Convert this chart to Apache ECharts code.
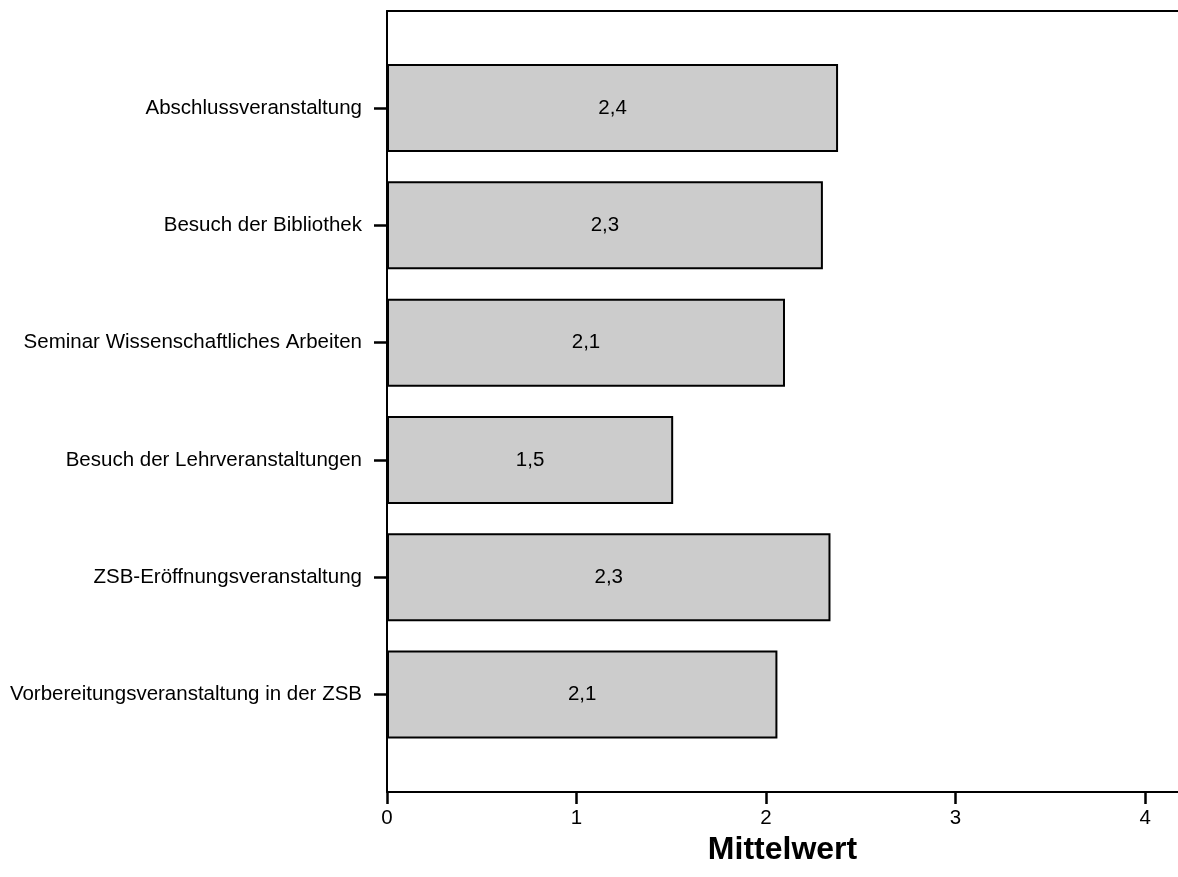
<!DOCTYPE html>
<html>
<head>
<meta charset="utf-8">
<script src="https://cdn.jsdelivr.net/npm/echarts@6/dist/echarts.min.js"></script>
<style>
html,body{margin:0;padding:0;background:#fff;}
#chart{width:1178px;height:877px;}
</style>
</head>
<body>
<div id="chart"></div>
<script>
const categories = [
  'Abschlussveranstaltung',
  'Besuch der Bibliothek',
  'Seminar Wissenschaftliches Arbeiten',
  'Besuch der Lehrveranstaltungen',
  'ZSB-Eröffnungsveranstaltung',
  'Vorbereitungsveranstaltung in der ZSB'
];
const meanValues = [2.38, 2.30, 2.10, 1.51, 2.34, 2.06];
const xTicks = [0, 1, 2, 3, 4];
const axisName = 'Mittelwert';

const FONT = "'Liberation Sans', Arial, sans-serif";
const LEFT = 387;
const RIGHT = -2;
const pxPerUnit = 190;
const xMax = (1178 - RIGHT - LEFT) / pxPerUnit;

const chart = echarts.init(document.getElementById('chart'));
chart.setOption({
  animation: false,
  backgroundColor: '#ffffff',
  textStyle: { fontFamily: FONT },
  grid: [
    { left: LEFT, right: RIGHT, top: 11, bottom: 85, show: false, containLabel: false },
    { left: LEFT, right: RIGHT, top: 49.35, height: 703.9, containLabel: false }
  ],
  xAxis: [
    {
      gridIndex: 0, type: 'value', position: 'bottom', min: 0, max: xMax, interval: 1,
      splitLine: { show: false },
      axisLine: { show: true, onZero: false, lineStyle: { color: '#000', width: 2 } },
      axisTick: { show: true, length: 12, lineStyle: { color: '#000', width: 2.5 } },
      axisLabel: {
        show: true, margin: 16, color: '#000', fontSize: 20.5, fontFamily: FONT,
        showMaxLabel: false,
        formatter: function (v) { return xTicks.indexOf(v) >= 0 ? String(v) : ''; }
      },
      name: axisName, nameLocation: 'middle', nameGap: 32,
      nameTextStyle: { color: '#000', fontSize: 32, fontWeight: 'bold', fontFamily: FONT }
    },
    {
      gridIndex: 0, type: 'value', position: 'top', min: 0, max: xMax,
      splitLine: { show: false },
      axisLine: { show: true, onZero: false, lineStyle: { color: '#000', width: 2 } },
      axisTick: { show: false }, axisLabel: { show: false }
    },
    {
      gridIndex: 1, type: 'value', min: 0, max: xMax, interval: 1, show: false
    }
  ],
  yAxis: [
    {
      gridIndex: 0, type: 'value', position: 'left', min: 0, max: 1,
      splitLine: { show: false },
      axisLine: { show: true, onZero: false, lineStyle: { color: '#000', width: 2 } },
      axisTick: { show: false }, axisLabel: { show: false }
    },
    {
      gridIndex: 1, type: 'category', data: categories, inverse: true,
      axisLine: { show: false },
      axisTick: { show: true, alignWithLabel: true, length: 13, lineStyle: { color: '#000', width: 2.5 } },
      axisLabel: { margin: 25, color: '#000', fontSize: 20.5, fontFamily: FONT }
    }
  ],
  series: [
    {
      type: 'bar', xAxisIndex: 2, yAxisIndex: 1,
      data: meanValues,
      barCategoryGap: '25%',
      itemStyle: { color: '#cccccc', borderColor: '#000', borderWidth: 2 },
      label: {
        show: true, position: 'inside', color: '#000', fontSize: 20.5, fontFamily: FONT,
        formatter: function (p) { return p.value.toFixed(1).replace('.', ','); }
      }
    }
  ]
});
</script>
</body>
</html>
